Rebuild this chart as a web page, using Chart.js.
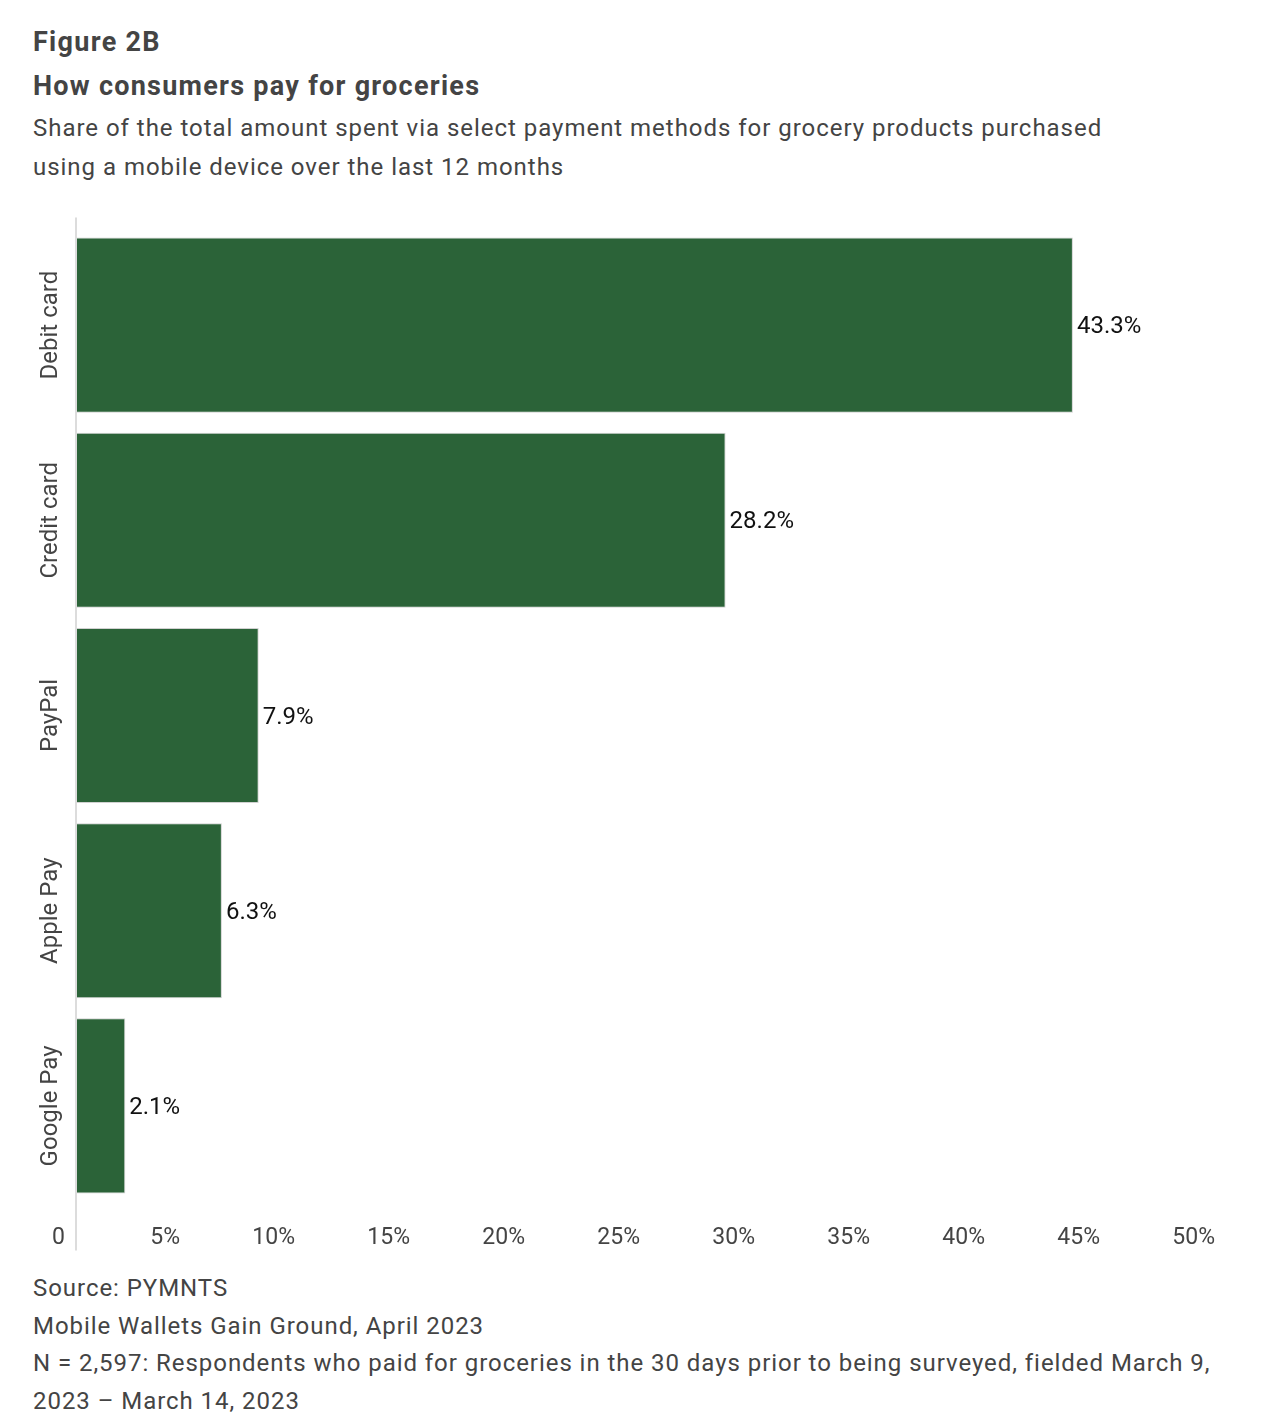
<!DOCTYPE html>
<html>
<head>
<meta charset="utf-8">
<script src="https://cdn.jsdelivr.net/npm/chart.js@4.4.1/dist/chart.umd.min.js"></script>
<style>
  body { margin: 0; background: #fff; font-family: Roboto, sans-serif; color: #444; }
  .line { position: absolute; left: 33px; white-space: nowrap; }
  .fig { top: 23px; font-size: 27px; font-weight: bold; line-height: 38px; letter-spacing: 1.3px; }
  .ttl { top: 67px; font-size: 27px; font-weight: bold; line-height: 38px; letter-spacing: 1.26px; }
  .sub { top: 109px; font-size: 24px; line-height: 38.5px; letter-spacing: 0.97px; }
  .foot { top: 1270px; font-size: 24px; line-height: 37.7px; letter-spacing: 0.95px; }
  #wrap { position: absolute; left: 0; top: 200px; width: 1288px; height: 1062px; }
</style>
</head>
<body>
<div class="line fig">Figure 2B</div>
<div class="line ttl">How consumers pay for groceries</div>
<div class="line sub">Share of the total amount spent via select payment methods for grocery products purchased<br>using a mobile device over the last 12 months</div>
<div id="wrap"><canvas id="myChart"></canvas></div>
<div class="line foot">Source: PYMNTS<br>Mobile Wallets Gain Ground, April 2023<br>N = 2,597: Respondents who paid for groceries in the 30 days prior to being surveyed, fielded March 9,<br>2023 – March 14, 2023</div>

<script>
const methods = ['Debit card', 'Credit card', 'PayPal', 'Apple Pay', 'Google Pay'];
const shares = [43.3, 28.2, 7.9, 6.3, 2.1];
const xTicks = [0, 5, 10, 15, 20, 25, 30, 35, 40, 45, 50];

// value labels to the right of each bar
const barLabels = {
    id: 'barLabels',
    afterDatasetsDraw(chart) {
        const ctx = chart.ctx;
        ctx.save();
        ctx.font = '24px Roboto';
        ctx.fillStyle = '#111';
        ctx.textAlign = 'left';
        ctx.textBaseline = 'middle';
        chart.getDatasetMeta(0).data.forEach((bar, i) => {
            ctx.fillText(shares[i].toFixed(1) + '%', bar.x + 4, bar.y + 2);
        });
        ctx.restore();
    }
};

// thin grey axis line, a bit longer than the plot area
const axisLine = {
    id: 'axisLine',
    beforeDatasetsDraw(chart) {
        const a = chart.chartArea;
        const ctx = chart.ctx;
        ctx.save();
        ctx.strokeStyle = '#dcdcdc';
        ctx.lineWidth = 2;
        ctx.beginPath();
        ctx.moveTo(a.left - 1, a.top - 10);
        ctx.lineTo(a.left - 1, a.bottom + 47);
        ctx.stroke();
        ctx.restore();
    }
};

new Chart(document.getElementById('myChart').getContext('2d'), {
    type: 'bar',
    data: {
        labels: methods,
        datasets: [{
            data: shares,
            backgroundColor: 'rgb(43, 99, 56)',
            borderColor: 'rgba(190, 190, 190, 0.7)',
            borderWidth: 1,
            categoryPercentage: 1,
            barPercentage: 0.897
        }]
    },
    options: {
        indexAxis: 'y',
        responsive: true,
        maintainAspectRatio: false,
        animation: false,
        layout: { padding: { top: 27.5, right: 61, left: 0, bottom: 0 } },
        scales: {
            x: {
                min: 0,
                max: 50,
                afterBuildTicks: (scale) => { scale.ticks = xTicks.map(v => ({ value: v })); },
                afterFit: (scale) => { scale.height = 58.5; },
                grid: { display: false, drawTicks: false },
                border: { display: false },
                ticks: {
                    align: 'end',
                    labelOffset: -12,
                    padding: 21,
                    color: '#444',
                    font: { family: 'Roboto', size: 23 },
                    callback: (v) => v === 0 ? '0' : v + '%'
                }
            },
            y: {
                afterFit: (scale) => { scale.width = 77; },
                grid: { display: false, drawTicks: false },
                border: { display: false },
                ticks: {
                    minRotation: 90,
                    maxRotation: 90,
                    crossAlign: 'center',
                    padding: -34,
                    color: '#444',
                    font: { family: 'Roboto', size: 24 }
                }
            }
        },
        plugins: {
            legend: { display: false },
            tooltip: { enabled: false }
        }
    },
    plugins: [axisLine, barLabels]
});
</script>
</body>
</html>
